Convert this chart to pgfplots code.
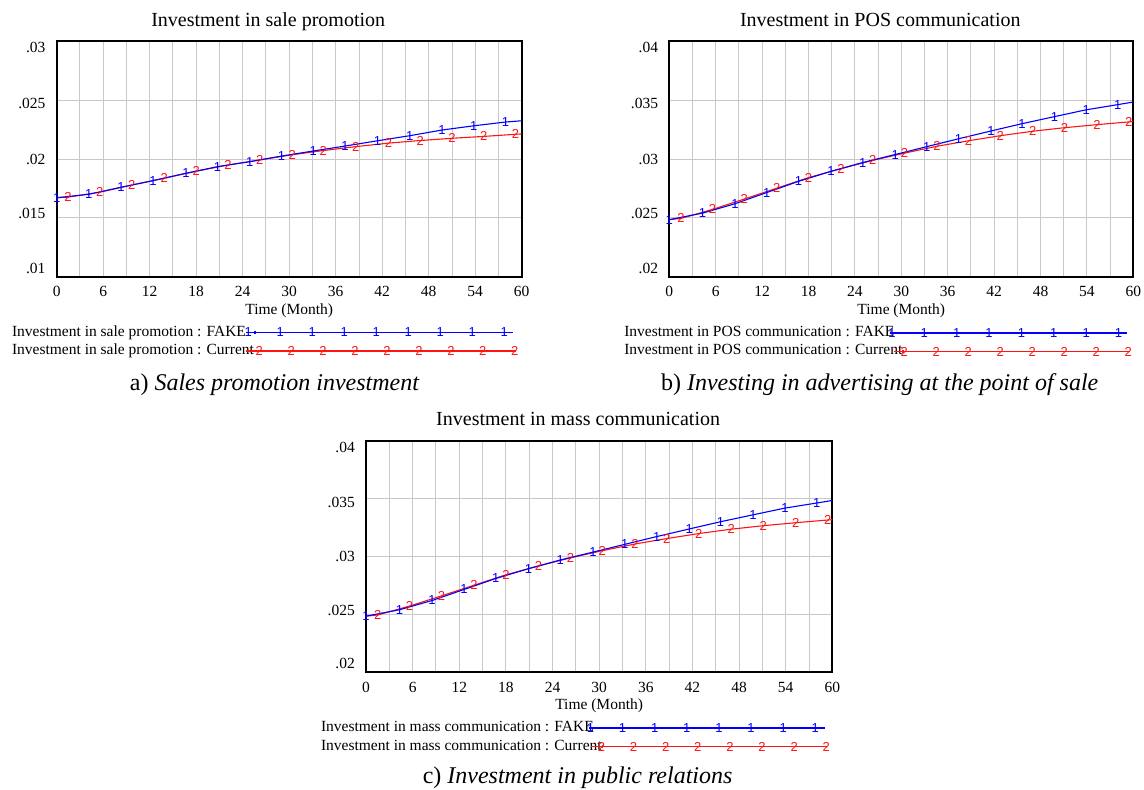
\documentclass[border=0pt]{standalone}
\usepackage{fontspec}
\setmainfont{Liberation Serif}
\newfontfamily\mkfont{Liberation Sans}
\usepackage{pgfplots}
\pgfplotsset{compat=1.18}

\definecolor{vblue}{RGB}{0,0,255}
\definecolor{vred}{RGB}{255,20,20}
\definecolor{vgrid}{RGB}{200,200,200}

\newcommand{\legline}[6]{%
  \begin{scope}[overlay]
    \draw[#1,mark=none] (#2pt,0pt) -- (#3pt,0pt);
    \foreach \k in {0,...,#6}{%
      \pgfmathsetmacro{\xx}{#4+\k*#5}%
      \draw[#1,mark indices={1}] plot[only marks] coordinates {(\xx pt,0pt)};
    }%
  \end{scope}%
  \path (0pt,-0.5pt) rectangle (0.5pt,0.5pt);%
}

\pgfplotsset{
  vensim/.style={
    scale only axis,
    /pgf/number format/assume math mode=true,
    xmin=0, xmax=60,
    xtick={0,6,...,60}, minor xtick={3,9,...,57},
    xmajorgrids, xminorgrids, yminorgrids, ymajorgrids=false,
    major tick length=0pt, minor tick length=0pt,
    scaled y ticks=false, scaled x ticks=false,
    grid style={draw=vgrid, line width=0.9pt},
    minor grid style={draw=vgrid, line width=0.9pt},
    axis line style={line width=1.8pt, black},
    tick label style={font=\fontsize{15.5}{18}\selectfont},
    xticklabel style={anchor=north, inner sep=0pt, yshift=-9.5pt},
    yticklabel style={anchor=east, inner sep=0pt, xshift=-11pt},
    xlabel={Time (Month)},
    xlabel style={at={(axis description cs:0.5,0)}, anchor=base, yshift=-37.5pt, inner sep=0pt, font=\fontsize{15.5}{18}\selectfont},
    title style={at={(axis description cs:0.5,1)}, anchor=base, yshift=8.8pt, xshift=-21pt, inner sep=0pt, font=\fontsize{20}{24}\selectfont},
    clip=false,
    legend plot pos=right,
    legend cell align=left,
    reverse legend,
    legend style={draw=none, fill=none, inner sep=0pt, outer sep=0pt,
      column sep=0pt, row sep=4.5pt, anchor=north west,
      font=\fontsize{15.5}{18}\selectfont,
      nodes={inner sep=0pt, text height=10.5pt, text depth=3.5pt}},
  },
  curB/.style={vblue, line width=1.1pt, mark=text,
    text mark={\color{vblue}\fontsize{13}{13}\mkfont 1}, mark indices={1,...,15}},
  curR/.style={vred, line width=1.1pt, mark=text,
    text mark={\color{vred}\fontsize{13}{13}\mkfont 2}, mark indices={2,...,16}},
  legBa/.style={legend image code/.code={\legline{##1}{-8.2}{258.7}{-6.2}{32.0}{8}}},
  legRa/.style={legend image code/.code={\legline{##1}{-8.2}{262}{4.7}{31.95}{8}}},
  legBb/.style={legend image code/.code={\legline{##1}{-12.7}{223.6}{-11.0}{32.37}{7}}},
  legRb/.style={legend image code/.code={\legline{##1}{-9.2}{227}{1.2}{32.01}{7}}},
  legBc/.style={legend image code/.code={\legline{##1}{-12.8}{222.6}{-11.8}{32.11}{7}}},
  legRc/.style={legend image code/.code={\legline{##1}{-11.1}{225.1}{-0.8}{32.11}{7}}},
}

\pgfplotstableread{
x y
0 0.01671
4.13 0.01700
8.31 0.01760
12.44 0.01816
16.67 0.01879
20.76 0.01935
24.9 0.01977
29.0 0.02025
33.1 0.02068
37.2 0.02110
41.4 0.02155
45.56 0.02198
49.7 0.02246
53.8 0.02282
57.9 0.02314
60 0.02325
}\saleFake

\pgfplotstableread{
x y
0 0.01671
1.47 0.01676
5.56 0.01718
9.69 0.01779
13.87 0.01837
18.0 0.01896
22.1 0.01949
26.2 0.01992
30.4 0.02036
34.4 0.02072
38.6 0.02105
42.8 0.02135
46.9 0.02157
51.0 0.02176
55.1 0.02192
59.2 0.02210
60 0.02213
}\saleCur

\pgfplotstableread{
x y
0 0.02485
4.3 0.02540
8.5 0.02620
12.6 0.02715
16.7 0.02810
20.9 0.02895
25.0 0.02970
29.2 0.03038
33.3 0.03105
37.4 0.03172
41.6 0.03238
45.6 0.03300
49.8 0.03360
53.9 0.03418
58.0 0.03462
60 0.03484
}\posFake

\pgfplotstableread{
x y
0 0.02485
1.5 0.02495
5.6 0.02572
9.7 0.02660
13.9 0.02752
18.0 0.02842
22.2 0.02918
26.3 0.02988
30.4 0.03050
34.6 0.03108
38.7 0.03155
42.8 0.03198
47.0 0.03236
51.1 0.03266
55.3 0.03292
59.4 0.03315
60 0.03318
}\posCur

\pgfplotstableread{
x y
0 0.02485
4.3 0.02540
8.5 0.02620
12.6 0.02715
16.7 0.02810
20.9 0.02895
25.0 0.02970
29.2 0.03038
33.3 0.03105
37.4 0.03172
41.6 0.03238
45.6 0.03300
49.8 0.03360
53.9 0.03418
58.0 0.03462
60 0.03484
}\massFake

\pgfplotstableread{
x y
0 0.02485
1.5 0.02495
5.6 0.02572
9.7 0.02660
13.9 0.02752
18.0 0.02842
22.2 0.02918
26.3 0.02988
30.4 0.03050
34.6 0.03108
38.7 0.03155
42.8 0.03198
47.0 0.03236
51.1 0.03266
55.3 0.03292
59.4 0.03315
60 0.03318
}\massCur

\begin{document}
\begin{tikzpicture}
\path[use as bounding box] (0pt,0pt) rectangle (1144pt,-790pt);

% panel a
\begin{axis}[vensim, at={(56.7pt,-276.7pt)}, anchor=south west,
  width=465pt, height=235.4pt,
  ymin=0.01, ymax=0.03,
  ytick={0.010739,0.015382,0.02,0.024703,0.029448},
  yticklabels={.01,.015,.02,.025,.03},
  minor ytick={0.015,0.02,0.025},
  title={Investment in sale promotion},
  legend style={at={(axis description cs:-0.0961,-0.2073)}}]
\addplot[curR, legRa] table {\saleCur};
\addlegendentry{Investment in sale promotion : Current}
\addplot[curB, legBa] table {\saleFake};
\addlegendentry{Investment in sale promotion : FAKE}
\end{axis}

% panel b
\begin{axis}[vensim, at={(669.3pt,-276.7pt)}, anchor=south west,
  width=464pt, height=235.4pt,
  ymin=0.02, ymax=0.04,
  ytick={0.020739,0.025382,0.03,0.034703,0.039448},
  yticklabels={.02,.025,.03,.035,.04},
  minor ytick={0.025,0.03,0.035},
  title={Investment in POS communication},
  legend style={at={(axis description cs:-0.0970,-0.2094)}}]
\addplot[curR, legRb] table {\posCur};
\addlegendentry{Investment in POS communication : Current}
\addplot[curB, legBb] table {\posFake};
\addlegendentry{Investment in POS communication : FAKE}
\end{axis}

% panel c
\begin{axis}[vensim, at={(366pt,-672.3pt)}, anchor=south west,
  width=466.3pt, height=231.6pt,
  ymin=0.02, ymax=0.04,
  ytick={0.020739,0.025382,0.03,0.034703,0.039448},
  yticklabels={.02,.025,.03,.035,.04},
  minor ytick={0.025,0.03,0.035},
  title={Investment in mass communication},
  legend style={at={(axis description cs:-0.0964,-0.2103)}}]
\addplot[curR, legRc] table {\massCur};
\addlegendentry{Investment in mass communication : Current}
\addplot[curB, legBc] table {\massFake};
\addlegendentry{Investment in mass communication : FAKE}
\end{axis}

\node[anchor=base, inner sep=0pt, font=\fontsize{24}{28}\selectfont] at (274.7pt,-390pt) {a) \textit{Sales promotion investment}};
\node[anchor=base, inner sep=0pt, font=\fontsize{24}{28}\selectfont] at (879.7pt,-390pt) {b) \textit{Investing in advertising at the point of sale}};
\node[anchor=base, inner sep=0pt, font=\fontsize{24}{28}\selectfont] at (577.6pt,-783.3pt) {c) \textit{Investment in public relations}};
\end{tikzpicture}
\end{document}
